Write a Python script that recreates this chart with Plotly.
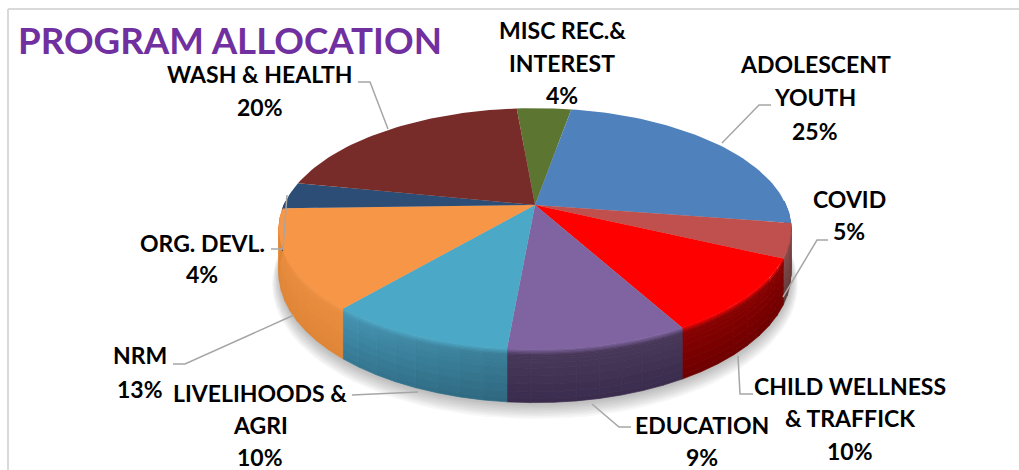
import math
import plotly.graph_objects as go

# ---------- data ----------
CATEGORIES = ["MISC REC.& INTEREST", "ADOLESCENT YOUTH", "COVID", "CHILD WELLNESS & TRAFFICK",
              "EDUCATION", "LIVELIHOODS & AGRI", "NRM", "ORG. DEVL.", "WASH & HEALTH"]
VALUES = [4.15, 24.65, 4.55, 10.0, 9.49, 9.85, 13.3, 3.55, 20.5]
TOP_COLORS = ["#5C7530", "#4F81BD", "#C0504D", "#FF0000", "#8064A2", "#4BA8C6", "#F79646", "#2C4D75", "#772C2A"]
SIDE_TOP = ["#4A5E26", "#3F6797", "#85494A", "#880000", "#483759", "#3F88A4", "#E98C3E", "#234060", "#5F2322"]
SIDE_BOT = ["#3A4A1E", "#324F75", "#5F3A38", "#6E0000", "#3A2C4E", "#316F88", "#E08536", "#1B3049", "#4A1B1A"]
TITLE = "PROGRAM ALLOCATION"

LABEL_LINES = [["MISC REC.&", "INTEREST", "4%"], ["ADOLESCENT", "YOUTH", "25%"], ["COVID", "5%"],
               ["CHILD WELLNESS", "& TRAFFICK", "10%"], ["EDUCATION", "9%"],
               ["LIVELIHOODS &", "AGRI", "10%"], ["NRM", "13%"], ["ORG. DEVL.", "4%"],
               ["WASH & HEALTH", "20%"]]

# ---------- layout constants ----------
CX, CY = 535, 205
RX, RY = 251, 116
PERSP = 0.198
DEPTH = 42.5
START = -5.0
LABEL_POS = [(562, [30, 63, 95]), (815, [64, 97, 131]), (849, [199, 231]), (850, [386, 418, 451]),
             (702, [425, 457]), (260, [393, 425, 457]), (140, [355, 389]), (202, [243, 274]), (260, [74, 107])]
LEADERS = [[(771, 105), (759, 105), (722, 143)], [(358, 82), (370, 82), (388, 129)],
           [(828, 240), (817, 240), (783, 297)], [(753, 394), (740, 394), (738, 356)],
           [(631, 427), (619, 427), (592, 404)], [(352, 395), (418, 392)],
           [(173, 364), (185, 364), (294, 315)], [(271, 249), (283, 249), (287, 195)]]


def rim(theta_deg, offset=0.0, grow=1.0):
    t = math.radians(theta_deg)
    x, y = math.sin(t), math.cos(t)
    s = 1.0 / (1.0 + PERSP * y)
    return CX + grow * RX * x * s, CY - grow * RY * y * s + offset * s


def hex2rgb(c):
    return tuple(int(c[i:i + 2], 16) for i in (1, 3, 5))


def mix(a, b, t):
    ra, rb = hex2rgb(a), hex2rgb(b)
    return tuple(ra[i] + (rb[i] - ra[i]) * t for i in range(3))


def css(c, f=1.0):
    return "rgb(%d,%d,%d)" % tuple(min(255, max(0, round(v * f))) for v in c)


fig = go.Figure()


def poly(xs, ys, color, line=True):
    fig.add_trace(go.Scatter(x=xs, y=ys, mode="lines", fill="toself", fillcolor=color,
                             line=dict(color=color, width=0.7) if line else dict(width=0),
                             hoverinfo="skip", showlegend=False))


# soft shadow under the pie
for i in range(10):
    pts = [rim(a, DEPTH + 2 + i * 0.9, 1.0 + i * 0.003) for a in range(0, 361, 3)]
    poly([p[0] for p in pts], [p[1] for p in pts], "rgba(60,60,60,0.035)", line=False)

# angular boundaries from values
total = sum(VALUES)
bounds = [START]
for v in VALUES:
    bounds.append(bounds[-1] + 360.0 * v / total)

# side wall
BANDS = [0.0, 0.025, 0.05, 0.075, 0.1, 0.13, 0.18, 0.25, 0.35, 0.5, 0.65, 0.8, 0.92, 1.0]
BEVEL = 0.11
for i, v in enumerate(VALUES):
    a0, a1 = max(bounds[i], 88), min(bounds[i + 1], 272)
    if a1 <= a0:
        continue
    n = max(2, int((a1 - a0) / 4))
    for k in range(n):
        s0 = a0 + (a1 - a0) * k / n
        s1 = a0 + (a1 - a0) * (k + 1) / n
        seg = [s0 + (s1 - s0) * q / 3 for q in range(4)]
        am = (s0 + s1) / 2
        shade = 1.0 + 0.16 * (am - (a0 + a1) / 2) / ((a1 - a0) / 2) * 0.5 if i == 5 else 1.0
        for b0, b1 in zip(BANDS[:-1], BANDS[1:]):
            tm = (b0 + b1) / 2
            if tm < BEVEL:
                col = mix(TOP_COLORS[i], SIDE_TOP[i], tm / BEVEL)
                f = 1 + (shade - 1) * tm / BEVEL
            else:
                col = mix(SIDE_TOP[i], SIDE_BOT[i], (tm - BEVEL) / (1 - BEVEL))
                f = shade
            up = [rim(a, DEPTH * b0) for a in seg]
            lo = [rim(a, DEPTH * b1) for a in reversed(seg)]
            pts = up + lo + up[:1]
            poly([p[0] for p in pts], [p[1] for p in pts], css(col, f))

# top faces
for i, v in enumerate(VALUES):
    a0, a1 = bounds[i], bounds[i + 1]
    n = max(4, int((a1 - a0) / 1.5))
    arc = [rim(a0 + (a1 - a0) * k / n) for k in range(n + 1)]
    xs = [CX] + [p[0] for p in arc] + [CX]
    ys = [CY] + [p[1] for p in arc] + [CY]
    poly(xs, ys, TOP_COLORS[i], line=False)

# leader lines
for pts in LEADERS:
    fig.add_trace(go.Scatter(x=[p[0] for p in pts], y=[p[1] for p in pts], mode="lines",
                             line=dict(color="#A6A6A6", width=1.5), hoverinfo="skip", showlegend=False))

# labels
annos = []
for lines, (x, ys) in zip(LABEL_LINES, LABEL_POS):
    for txt, y in zip(lines, ys):
        annos.append(dict(x=x, y=y, xref="x", yref="y", text="<b>%s</b>" % txt, showarrow=False,
                          xanchor="center", yanchor="middle",
                          font=dict(family="Lato", size=23, color="#000000")))

shapes = [dict(type="line", xref="x", yref="y", x0=8, y0=9, x1=1019, y1=9, line=dict(color="#D9D9D9", width=2)),
          dict(type="line", xref="x", yref="y", x0=8, y0=9, x1=8, y1=470, line=dict(color="#D9D9D9", width=2))]

fig.update_layout(width=1019, height=470, margin=dict(l=0, r=0, t=0, b=0), autosize=False,
                  paper_bgcolor="white", plot_bgcolor="white", showlegend=False, hovermode=False,
                  title=dict(text="<b>%s</b>" % TITLE, x=18 / 1019, xanchor="left", xref="paper",
                             y=1 - 41 / 470, yanchor="middle", yref="container",
                             font=dict(family="Lato", size=36.7, color="#7030A0")),
                  xaxis=dict(range=[0, 1019], visible=False, fixedrange=True),
                  yaxis=dict(range=[470, 0], visible=False, fixedrange=True),
                  annotations=annos, shapes=shapes)
fig.write_html("out.html", config={"displayModeBar": False},
               post_script="document.body.style.margin='0';document.body.style.overflow='hidden';")
